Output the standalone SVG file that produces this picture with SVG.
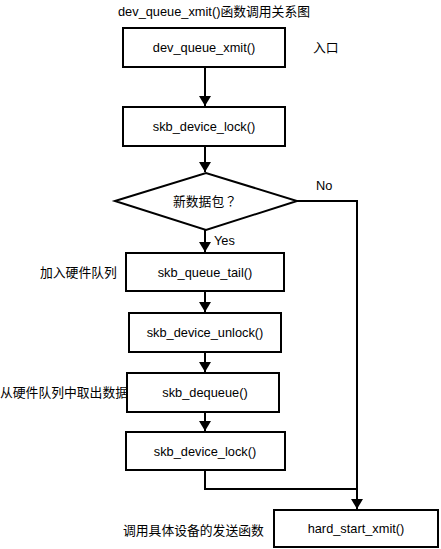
<svg xmlns="http://www.w3.org/2000/svg" width="441" height="549" viewBox="0 0 441 549">
<style>
.box{fill:#fff;stroke:#000;stroke-width:2}
.ln{fill:none;stroke:#000;stroke-width:2}
text{font-family:"Liberation Sans","Noto Sans CJK SC",sans-serif;font-size:12.8px;fill:#000}
.c{text-anchor:middle}
.q{font-family:"Liberation Sans","Noto Sans CJK TC",sans-serif}
</style>
<defs>
<marker id="ah" markerWidth="10" markerHeight="12" refX="10" refY="6" orient="auto" markerUnits="userSpaceOnUse">
<path d="M0,0 L10,6 L0,12 Z" fill="#000"/>
</marker>
</defs>
<rect width="441" height="549" fill="#fff"/>
<text x="118" y="16">dev_queue_xmit()函数调用关系图</text>
<g id="connectors">
<path class="ln" d="M205,67 V106" marker-end="url(#ah)"/>
<path class="ln" d="M205,146 V172" marker-end="url(#ah)"/>
<path class="ln" d="M205,230 V252" marker-end="url(#ah)"/>
<path class="ln" d="M205,291 V312" marker-end="url(#ah)"/>
<path class="ln" d="M205,352 V372" marker-end="url(#ah)"/>
<path class="ln" d="M205,412 V431" marker-end="url(#ah)"/>
<path class="ln" d="M297,201 H357 V509" marker-end="url(#ah)"/>
<path class="ln" d="M205,470 V489 H357"/>
<text x="316" y="190">No</text>
<text x="214" y="245">Yes</text>
</g>
<g id="n1"><rect class="box" x="123" y="28" width="162" height="39"/><text class="c" x="204" y="52">dev_queue_xmit()</text></g>
<text x="313" y="52">入口</text>
<g id="n2"><rect class="box" x="123" y="107" width="162" height="39"/><text class="c" x="204" y="131">skb_device_lock()</text></g>
<g id="n3"><path class="box" d="M115,201 L206,173 L297,201 L206,230 Z"/><text class="c" x="205" y="206"><tspan>新数据包</tspan><tspan class="q">？</tspan></text></g>
<g id="n4"><rect class="box" x="126" y="253" width="158" height="38"/><text class="c" x="205" y="277">skb_queue_tail()</text></g>
<text x="40" y="277">加入硬件队列</text>
<g id="n5"><rect class="box" x="129" y="313" width="152" height="39"/><text class="c" x="205" y="337">skb_device_unlock()</text></g>
<g id="n6"><rect class="box" x="127" y="373" width="152" height="39"/><text class="c" x="205" y="397">skb_dequeue()</text></g>
<text x="0" y="397">从硬件队列中取出数据</text>
<g id="n7"><rect class="box" x="126" y="432" width="159" height="38"/><text class="c" x="205" y="456">skb_device_lock()</text></g>
<g id="n8"><rect class="box" x="274" y="510" width="164" height="37"/><text class="c" x="356" y="533">hard_start_xmit()</text></g>
<text x="123" y="535">调用具体设备的发送函数</text>
</svg>
